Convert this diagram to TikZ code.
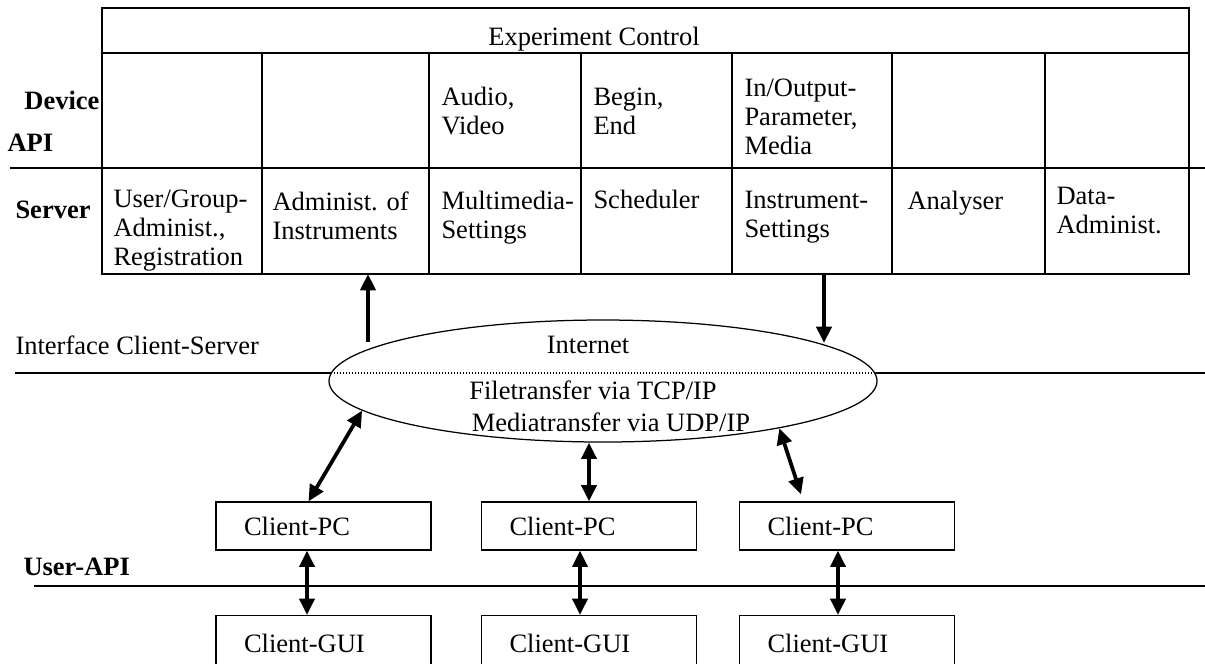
\documentclass[tikz,border=0pt]{standalone}
\usepackage{fontspec}
\setmainfont{Liberation Serif}
\usetikzlibrary{shapes.geometric,arrows.meta}

\newcommand{\figfont}{\fontsize{10.6}{11.6}\selectfont}

\tikzset{
  tbl/.style={line width=0.5pt},
  layer/.style={line width=0.8pt},
  plain/.style={inner sep=0pt, font=\figfont},
  head/.style={inner sep=0pt, font=\bfseries\figfont},
  cell/.style={anchor=north west, inner sep=0pt, align=left, font=\figfont},
  client/.style={draw, line width=0.5pt, minimum width=86pt, minimum height=19.2pt,
    text width=63.6pt, inner xsep=11.2pt, inner ysep=0pt, align=left, font=\figfont},
  arr/.style={line width=1.5pt, -{Triangle[length=6.5pt,width=6pt]}},
  dblarr/.style={line width=1.5pt, {Triangle[length=6.5pt,width=6pt]}-{Triangle[length=6.5pt,width=6pt]}}
}

\begin{document}
\begin{tikzpicture}[x=0.4pt, y=-0.4pt]
\useasboundingbox (0,0) rectangle (1205,663);

%draw table
\draw[tbl] (102,8) rectangle (1189,274);
\draw[tbl] (102,53) -- (1189,53);

%draw vertical lines
\foreach \x in {262,429,581,732,892,1045}
\draw[tbl] (\x,53) -- (\x,274);

%draw layer lines
\draw[layer] (10,168) -- (1205,168);
\draw[layer] (15,373) -- (331,373);
\draw[line width=0.5pt, dash pattern=on 0.5pt off 0.7pt] (331,373) -- (875,373);
\draw[layer] (875,373) -- (1205,373);
\draw[layer] (34,586) -- (1205,586);

%layer labels
\node[head, anchor=east] (dev) at (100,100) {Device};
\node[head, anchor=west] (api) at (7,143) {API};
\node[head, anchor=west] (srv) at (15,210) {Server};
\node[plain, anchor=west] (ifc) at (15,345) {Interface Client-Server};
\node[head, anchor=west] (uapi) at (23,567) {User-API};

%table texts
\node[plain] (ctrl) at (594,39) {Experiment Control};
\node[cell] (av) at (441,87) {Audio,\\Video};
\node[cell] (be) at (593,87) {Begin,\\End};
\node[cell] (io) at (744,78) {In/Output-\\Parameter,\\Media};

\node[cell] (usr) at (113,189) {User/Group-\\Administ.,\\Registration};
\node[cell] (adm) at (272,191) {Administ. of\\Instruments};
\node[cell] (mms) at (441,191) {Multimedia-\\Settings};
\node[cell] (sch) at (593,190) {Scheduler};
\node[cell] (ins) at (744,191) {Instrument-\\Settings};
\node[cell] (ana) at (907,191) {Analyser};
\node[cell] (dat) at (1056,187) {Data-\\Administ.};

%internet
\node[draw, ellipse, line width=0.5pt, minimum width=219.2pt, minimum height=48.8pt, inner sep=0pt] (net) at (603,381) {};
\node[plain] (inet) at (588,345) {Internet};
\node[plain] (ftp) at (593,390) {Filetransfer via TCP/IP};
\node[plain] (mtp) at (611,422) {Mediatransfer via UDP/IP};

%clients
\node[client] (pc1) at (323.5,526) {Client-PC};
\node[client] (pc2) at (589,526) {Client-PC};
\node[client] (pc3) at (847,526) {Client-PC};
\node[client, minimum height=22pt] (gui1) at (323.5,643) {Client-GUI};
\node[client, minimum height=22pt] (gui2) at (589,643) {Client-GUI};
\node[client, minimum height=22pt] (gui3) at (847,643) {Client-GUI};

%arrows
\coordinate (admBot) at (368,274);
\coordinate (insBot) at (824,274);
\draw[arr, shorten <=2.4pt] (admBot |- net.172) -- (admBot);
\draw[arr] (insBot) -- (insBot |- net.10);

\draw[dblarr] ([xshift=-6pt]pc1.north) -- (net.187);
\draw[dblarr] (pc2.north) -- (pc2.north |- net.south);
\draw[dblarr] ([shift={(-46,-7)}]pc3.north) -- (net.-15);

\foreach \i/\dx in {1/-6.6,2/-3.6,3/-3.6}
\draw[dblarr] ([xshift=\dx pt]pc\i.south) -- ([xshift=\dx pt]gui\i.north);

\end{tikzpicture}
\end{document}
